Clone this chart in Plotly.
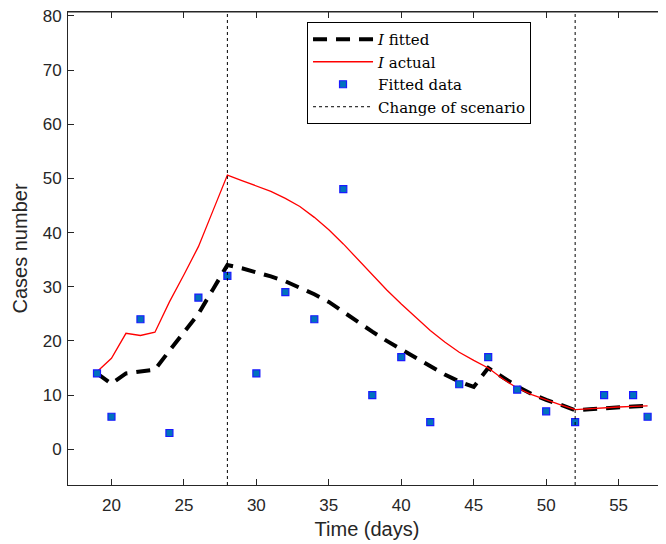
import plotly.graph_objects as go

# ---- data ----
days_model = list(range(19, 58))
i_fitted = [14.0, 12.1, 14.0, 14.3, 14.7, 18.2, 21.6, 25.0, 29.5, 34.0,
            33.4, 32.7, 31.9, 31.0, 29.9, 28.6, 27.2, 25.3, 23.5, 21.7,
            20.0, 18.4, 16.8, 15.2, 13.8, 12.5, 11.5, 15.0, 13.2, 11.6,
            10.2, 9.1, 8.2, 7.2, 7.4, 7.6, 7.8, 7.9, 8.0]
i_actual = [14.3, 16.8, 21.4, 21.0, 21.6, 27.2, 32.2, 37.4, 44.0, 50.6,
            49.6, 48.6, 47.6, 46.3, 44.8, 42.8, 40.5, 37.9, 35.0, 32.2,
            29.4, 26.8, 24.3, 21.9, 19.8, 17.9, 16.4, 15.0, 13.0, 11.3,
            10.1, 9.1, 8.2, 7.3, 7.5, 7.6, 7.8, 7.9, 8.0]
days_data = [19, 20, 22, 24, 26, 28, 30, 32, 34, 36, 38, 40, 42, 44, 46,
             48, 50, 52, 54, 56, 57]
cases_data = [14, 6, 24, 3, 28, 32, 14, 29, 24, 48, 10, 17, 5, 12, 17,
              11, 7, 5, 10, 10, 6]
scenario_days = [28, 52]

x_range = [17, 58.27]
y_range = [-6.6, 80.71]
x_ticks = [20, 25, 30, 35, 40, 45, 50, 55]
y_ticks = [0, 10, 20, 30, 40, 50, 60, 70, 80]

# ---- figure ----
fig = go.Figure()
fig.add_trace(go.Scatter(
    x=days_model, y=i_fitted, mode="lines", name="<i>I</i> fitted",
    line=dict(color="black", width=4, dash="14px,9px")))
fig.add_trace(go.Scatter(
    x=days_model, y=i_actual, mode="lines", name="<i>I</i> actual",
    line=dict(color="red", width=1.3)))
fig.add_trace(go.Scatter(
    x=days_data, y=cases_data, mode="markers", name="Fitted data",
    marker=dict(symbol="square", size=7, color="#0072BD",
                line=dict(color="#1a1aff", width=1.2))))
vx, vy = [], []
for d in scenario_days:
    vx += [d, d, None]
    vy += [y_range[0], y_range[1], None]
fig.add_trace(go.Scatter(
    x=vx, y=vy, mode="lines", name="Change of scenario",
    line=dict(color="black", width=1, dash="dot")))

axis_common = dict(
    showgrid=False, zeroline=False, showline=True, linecolor="#262626",
    linewidth=1, ticks="inside", ticklen=6, tickcolor="#262626",
    automargin=False, ticklabeloverflow="allow",
    tickfont=dict(family="Liberation Sans, Arial", size=17, color="#262626"),
)
fig.update_xaxes(range=x_range, tickvals=x_ticks, mirror="ticks",
                 ticklabelstandoff=5,
                 title=dict(text="Time (days)",
                            font=dict(family="Liberation Sans, Arial", size=20,
                                      color="#262626"), standoff=7),
                 **axis_common)
fig.update_yaxes(range=y_range, tickvals=y_ticks, mirror=False,
                 ticklabelstandoff=2,
                 title=dict(text="Cases number",
                            font=dict(family="Liberation Sans, Arial", size=20,
                                      color="#262626"), standoff=9),
                 **axis_common)

# top frame line (box on)
fig.add_shape(type="line", xref="paper", yref="paper", x0=0, x1=1, y0=1, y1=1,
              line=dict(color="#262626", width=1.2), layer="above")

fig.update_layout(
    width=658, height=536,
    margin=dict(l=60, r=0, t=4, b=59, autoexpand=False),
    paper_bgcolor="white", plot_bgcolor="white",
    showlegend=True,
    legend=dict(x=0.3997, y=0.9789, xanchor="left", yanchor="top",
                bgcolor="white", bordercolor="black", borderwidth=1,
                font=dict(family="DejaVu Serif", size=15, color="black"),
                itemwidth=60, tracegroupgap=0),
)

fig.write_html("out.html")
